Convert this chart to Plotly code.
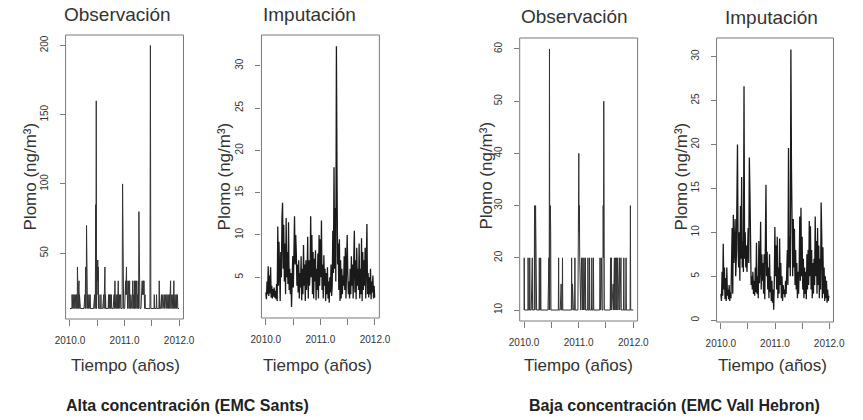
import numpy as np
import plotly.graph_objects as go

W, H = 863, 420

# ---- data -------------------------------------------------------------
# Observed lead (ng/m3), Sants: (day since 2010-01-01, value)
obs_sants = [
    (0, 10), (13, 10), (14, 20), (16, 10), (17, 20), (19, 10), (21, 20), (23, 10), (25, 20), (27, 10),
    (28, 20), (30, 10), (32, 20), (34, 10), (36, 20), (38, 10), (40, 20), (42, 10), (44, 20), (46, 10),
    (48, 20), (49, 10), (50, 40), (52, 10), (54, 20), (56, 10), (57, 25), (58, 10), (60, 20), (61, 30),
    (62, 10), (64, 20), (66, 10), (68, 20), (70, 10),
    (94, 10), (95, 20), (97, 10), (100, 20), (102, 10), (104, 20), (105, 40), (107, 10), (109, 20),
    (111, 70), (113, 10), (115, 20), (117, 10), (119, 20), (121, 10), (123, 20), (125, 10), (127, 20),
    (129, 10), (131, 20), (133, 10), (135, 20), (137, 10),
    (158, 10), (160, 20), (162, 10), (165, 20), (167, 10), (170, 20), (172, 85), (174, 10), (176, 160),
    (178, 10), (180, 60), (182, 45), (184, 30), (186, 45), (188, 20), (190, 40), (192, 10), (194, 20),
    (196, 10), (205, 10), (207, 20), (209, 10),
    (219, 10), (221, 20), (223, 10), (226, 20), (228, 10), (230, 25), (232, 10), (234, 40), (236, 10),
    (238, 20), (240, 10), (256, 10), (258, 20), (260, 10), (264, 20), (266, 10), (270, 20), (272, 10),
    (277, 20), (279, 10),
    (289, 10), (291, 20), (293, 10), (295, 20), (297, 10), (299, 20), (301, 30), (303, 10), (305, 20),
    (307, 10), (309, 20), (311, 10), (313, 20), (315, 10), (317, 20), (319, 10), (321, 20), (323, 30),
    (325, 10), (327, 20), (329, 10), (331, 20), (333, 10), (335, 20), (337, 10), (339, 20), (341, 10),
    (349, 10), (352, 100), (355, 10), (357, 20), (359, 10),
    (366, 10), (368, 20), (370, 10), (372, 30), (374, 20), (376, 30), (378, 40), (380, 20), (382, 30),
    (384, 20), (386, 10), (388, 20), (390, 10), (393, 30), (395, 10), (397, 20), (399, 30), (401, 10),
    (405, 10), (407, 20), (409, 10), (412, 20), (414, 10), (418, 20), (420, 30), (422, 10), (426, 20),
    (428, 10), (431, 30), (433, 10), (436, 20), (438, 30), (440, 10), (444, 20), (446, 30), (448, 10),
    (452, 20), (454, 10), (457, 30), (459, 10), (461, 80), (463, 10), (466, 20), (468, 10),
    (475, 10), (477, 20), (479, 30), (481, 20), (483, 30), (485, 20), (487, 30), (489, 20), (491, 30),
    (493, 20), (495, 30), (497, 20), (499, 10), (502, 20), (504, 10),
    (535, 10), (538, 200), (541, 10), (562, 10), (564, 20), (566, 10), (577, 10), (579, 20), (581, 10),
    (595, 10), (597, 30), (599, 10),
    (606, 10), (608, 20), (610, 10), (612, 20), (614, 10), (616, 20), (618, 10), (621, 20), (623, 10),
    (626, 20), (628, 10), (631, 20), (633, 10), (636, 20), (638, 10), (641, 20), (643, 10), (645, 20),
    (647, 10), (649, 20), (651, 10), (653, 20), (655, 10), (657, 20), (659, 10), (661, 20), (663, 10),
    (665, 20), (667, 10), (669, 20), (671, 10), (673, 30), (675, 10), (677, 20), (679, 10), (681, 20),
    (683, 10), (685, 20), (687, 10), (689, 20), (691, 10), (693, 20), (695, 30), (697, 10), (699, 20),
    (701, 10), (703, 20), (705, 10), (707, 20), (709, 10), (711, 20), (713, 10), (715, 20), (717, 10),
    (719, 20), (721, 10), (730, 10),
]

# Observed lead (ng/m3), Vall Hebron: (day since 2010-01-01, value)
obs_vallhebron = [
    (0, 10), (1, 20), (3, 10), (26, 10), (27, 20), (29, 10), (37, 10), (38, 20), (40, 10), (48, 10),
    (50, 20), (52, 10), (55, 20), (57, 10), (68, 10), (70, 30), (73, 10), (75, 20), (77, 30), (80, 10),
    (82, 20), (84, 10), (100, 10), (102, 20), (104, 10), (110, 10), (111, 20), (113, 10),
    (160, 10), (162, 20), (164, 10), (166, 20), (168, 10), (170, 60), (172, 10), (174, 25), (176, 30),
    (178, 25), (180, 10),
    (229, 10), (231, 20), (233, 10), (242, 10), (244, 15), (246, 10), (248, 15), (250, 10), (255, 10),
    (257, 20), (259, 10),
    (316, 10), (318, 20), (320, 10), (324, 15), (326, 10), (328, 15), (330, 10), (338, 10), (340, 20),
    (342, 10),
    (360, 10), (362, 30), (364, 25), (366, 40), (368, 25), (370, 30), (372, 20), (374, 10), (377, 20),
    (379, 10), (384, 20), (386, 15), (388, 20), (390, 10), (393, 20), (395, 15), (397, 10), (401, 20),
    (403, 15), (405, 20), (407, 10), (410, 20), (412, 10),
    (425, 10), (427, 20), (429, 10), (436, 10), (438, 20), (440, 10), (451, 10), (453, 20), (455, 10),
    (462, 10), (464, 20), (466, 10),
    (506, 10), (508, 20), (510, 10), (515, 15), (517, 20), (519, 15), (521, 10), (527, 10), (529, 30),
    (531, 20), (533, 50), (535, 30), (537, 10),
    (576, 10), (578, 20), (580, 10), (584, 20), (586, 10), (596, 15), (598, 10), (604, 20), (606, 10),
    (612, 20), (614, 10), (618, 20), (620, 10), (626, 20), (628, 10), (638, 20), (640, 10), (648, 20),
    (650, 10), (665, 10), (667, 20), (669, 10), (680, 10), (682, 20), (684, 10), (709, 10), (711, 30),
    (713, 10), (730, 10),
]

# Imputed daily series, sampled every 4 days from 2010-01-01
imp_step_days = 4
imp_sants = [
    3.2, 2.4, 4.5, 3.0, 6.3, 2.8, 5.2, 3.1, 6.2, 2.6,
    4.0, 2.5, 3.6, 2.7, 3.8, 2.6, 3.4, 2.4, 4.2, 2.2,
    11.0, 4.0, 9.2, 5.5, 2.2, 8.0, 5.0, 12.0, 13.8, 6.0,
    11.2, 4.5, 9.0, 3.0, 12.0, 5.0, 8.0, 4.2, 11.5, 3.5,
    6.0, 3.0, 5.5, 1.5, 4.5, 7.5, 3.8, 9.0, 12.2, 6.5,
    10.0, 7.8, 4.0, 6.5, 3.2, 7.0, 2.5, 5.5, 3.8, 7.5,
    2.3, 6.0, 3.0, 8.8, 4.0, 6.5, 2.2, 7.0, 3.5, 5.0,
    9.8, 2.5, 7.0, 4.0, 5.5, 12.2, 5.0, 10.0, 3.0, 8.0,
    2.5, 7.2, 4.5, 8.2, 2.3, 6.0, 3.5, 7.8, 2.5, 10.0,
    4.0, 9.5, 5.0, 11.7, 3.5, 6.5, 2.5, 7.6, 4.0, 6.0,
    2.2, 5.5, 3.0, 6.2, 2.5, 4.5, 2.0, 5.0, 3.2, 6.5,
    2.8, 4.0, 10.5, 5.5, 18.0, 6.0, 13.2, 4.5, 32.3, 17.3,
    6.5, 9.0, 3.5, 9.5, 2.2, 7.0, 2.5, 6.0, 3.0, 5.2,
    4.0, 7.5, 3.5, 8.5, 2.5, 6.0, 10.0, 5.5, 3.0, 4.5,
    2.5, 6.0, 3.0, 7.5, 4.0, 6.5, 2.5, 7.0, 10.5, 3.2,
    7.0, 2.4, 8.5, 4.0, 6.0, 3.5, 9.0, 2.5, 6.0, 3.0,
    9.6, 2.2, 8.0, 3.5, 7.0, 4.0, 8.5, 2.5, 6.5, 11.3,
    3.0, 5.5, 2.6, 5.0, 3.0, 6.0, 2.4, 4.5, 3.2, 5.2,
    2.5, 4.0, 2.6,
]
imp_vallhebron = [
    3.0, 2.2, 5.5, 2.8, 8.7, 3.5, 6.0, 2.4, 4.8, 2.2,
    6.0, 2.8, 3.5, 2.4, 4.0, 2.2, 3.2, 2.5, 5.0, 10.5,
    3.0, 12.0, 6.5, 8.0, 11.5, 5.0, 7.0, 14.0, 20.0, 8.0,
    6.0, 10.0, 4.5, 13.0, 7.0, 16.3, 6.0, 9.0, 5.5, 26.6,
    7.0, 10.0, 6.0, 8.5, 5.5, 7.5, 10.5, 6.5, 18.5, 14.5,
    6.5, 4.0, 5.0, 3.5, 5.5, 3.0, 4.5, 2.8, 6.0, 3.2,
    8.8, 3.0, 5.0, 2.5, 9.0, 4.2, 6.0, 11.2, 3.5, 7.5,
    4.5, 6.5, 3.0, 7.5, 2.4, 8.0, 15.4, 5.0, 7.8, 3.5,
    6.0, 2.5, 7.5, 3.2, 5.0, 2.2, 4.5, 2.0, 3.5, 1.2,
    4.0, 10.6, 5.0, 8.5, 3.5, 9.5, 2.5, 6.0, 3.0, 9.3,
    4.0, 6.5, 2.5, 5.0, 2.2, 4.0, 3.0, 3.5, 2.6, 4.5,
    3.0, 5.5, 8.0, 4.0, 19.6, 6.0, 9.5, 5.0, 30.8, 17.2,
    8.5, 5.0, 11.5, 6.0, 10.4, 4.0, 8.0, 3.5, 6.5, 2.5,
    5.5, 3.0, 6.0, 11.8, 4.5, 12.8, 5.0, 9.5, 3.5, 7.0,
    2.5, 6.0, 3.0, 5.5, 2.4, 7.5, 3.5, 8.0, 4.0, 11.3,
    5.0, 10.7, 3.5, 8.0, 2.5, 6.5, 3.0, 7.0, 4.0, 11.8,
    5.0, 9.0, 3.0, 10.5, 4.0, 8.5, 2.5, 7.0, 3.5, 13.4,
    9.7, 2.5, 8.3, 3.0, 6.0, 2.2, 5.0, 2.5, 4.5, 2.0,
    3.5, 2.2, 2.8,
]

panel_titles = ["Observación", "Imputación", "Observación", "Imputación"]
x_title = "Tiempo (años)"
y_title = "Plomo (ng/m³)"
group_titles = ["Alta concentración (EMC Sants)", "Baja concentración (EMC Vall Hebron)"]
x_tickvals = [2010.0, 2010.5, 2011.0, 2011.5, 2012.0]
x_ticktext = ["2010.0", "", "2011.0", "", "2012.0"]
y_ticks = [
    [50, 100, 150, 200],
    [5, 10, 15, 20, 25, 30],
    [10, 20, 30, 40, 50, 60],
    [0, 5, 10, 15, 20, 25, 30],
]
y_ranges = [[2.4, 207.6], [0.19, 33.63], [7.9, 62.1], [-0.2, 32.1]]
x_range = [2009.92, 2012.08]


def to_year(days):
    return [2010 + d / 365.0 for d in days]


def pairs_xy(pairs):
    d = [p[0] for p in pairs]
    v = [p[1] for p in pairs]
    return to_year(d), v


imp_days_s = np.arange(len(imp_sants)) * imp_step_days
imp_days_v = np.arange(len(imp_vallhebron)) * imp_step_days

series = [
    pairs_xy(obs_sants),
    (to_year(imp_days_s), imp_sants),
    pairs_xy(obs_vallhebron),
    (to_year(imp_days_v), imp_vallhebron),
]
# observed panels: thinner grey strokes; imputed panels: denser black
line_styles = [
    dict(color="#333333", width=1.0),
    dict(color="#1a1a1a", width=1.3),
    dict(color="#333333", width=1.0),
    dict(color="#1a1a1a", width=1.3),
]

# panel boxes in pixels: (left, right, top, bottom)
boxes = [(56, 177, 35, 319), (257, 378, 35, 318), (522, 643, 38, 321), (724, 844, 38, 322)]

FONT = "Liberation Sans, Arial, sans-serif"
TXT = "#333333"
AX = "#7a7a7a"


def px(x):
    return x / W


def py(y):
    return 1 - y / H


fig = go.Figure()
layout = dict(
    width=W, height=H, margin=dict(l=0, r=0, t=0, b=0),
    paper_bgcolor="white", plot_bgcolor="white", showlegend=False,
    font=dict(family=FONT, color=TXT),
)
shapes, annotations = [], []

for i, ((xv, yv), (l, r, t, b)) in enumerate(zip(series, boxes)):
    n = "" if i == 0 else str(i + 1)
    fig.add_trace(go.Scatter(
        x=xv, y=yv, mode="lines", xaxis="x" + n, yaxis="y" + n,
        line=line_styles[i], hoverinfo="skip",
    ))
    layout["xaxis" + n] = dict(
        domain=[px(l), px(r)], anchor="y" + n, range=x_range,
        tickmode="array", tickvals=x_tickvals, ticktext=x_ticktext,
        ticks="outside", ticklen=6, tickcolor=AX, tickwidth=1,
        ticklabelstandoff=6,
        showgrid=False, zeroline=False, showline=False,
        tickfont=dict(size=10, color=TXT, family=FONT),
    )
    layout["yaxis" + n] = dict(
        domain=[py(b), py(t)], anchor="x" + n, range=y_ranges[i],
        tickmode="array", tickvals=y_ticks[i],
        ticks="outside", ticklen=5, tickcolor=AX, tickwidth=1,
        ticklabelstandoff=8,
        showgrid=False, zeroline=False, showline=False, tickangle=-90,
        tickfont=dict(size=10, color=TXT, family=FONT),
    )
    shapes.append(dict(
        type="rect", xref="x" + n + " domain", yref="y" + n + " domain",
        x0=0, x1=1, y0=0, y1=1, line=dict(color=AX, width=1),
    ))

title_pos = [(109, 15), (306, 15), (578, 17), (780, 18)]
ylab_x = [20, 219, 487, 688]
xlab_x = [118, 315, 582, 781]
for i in range(4):
    tx, ty = title_pos[i]
    annotations.append(dict(
        text=panel_titles[i], x=px(tx), y=py(ty), xref="paper", yref="paper",
        showarrow=False, xanchor="center", yanchor="middle",
        font=dict(size=19, color=TXT, family=FONT),
    ))
    annotations.append(dict(
        text=y_title, x=px(ylab_x[i]), y=py(176), xref="paper", yref="paper",
        showarrow=False, xanchor="center", yanchor="middle", textangle=-90,
        font=dict(size=17, color=TXT, family=FONT),
    ))
    annotations.append(dict(
        text=x_title, x=px(xlab_x[i]), y=py(365), xref="paper", yref="paper",
        showarrow=False, xanchor="center", yanchor="middle",
        font=dict(size=17, color=TXT, family=FONT),
    ))

for label, cx in zip(group_titles, [181, 681]):
    annotations.append(dict(
        text="<b>" + label + "</b>", x=px(cx), y=py(405), xref="paper", yref="paper",
        showarrow=False, xanchor="center", yanchor="middle",
        font=dict(size=16, color="#222222", family=FONT),
    ))

layout["shapes"] = shapes
layout["annotations"] = annotations
fig.update_layout(**layout)
fig.write_html("out.html")
